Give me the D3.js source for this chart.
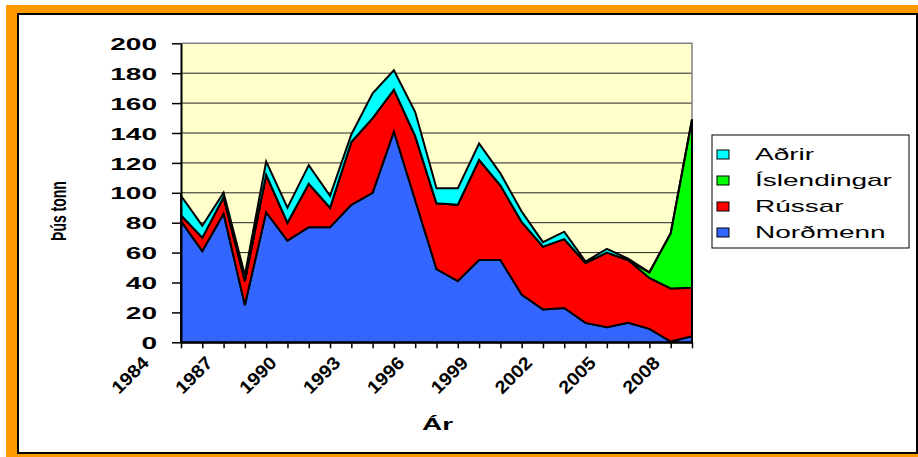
<!DOCTYPE html>
<html lang="is">
<head>
<meta charset="UTF-8" />
<title>Afli</title>
<script src="https://d3js.org/d3.v7.min.js"></script>
<style>
  html, body { margin: 0; padding: 0; background: #fff; }
  svg { display: block; font-family: "Liberation Sans", Arial, sans-serif; }
</style>
</head>
<body>
<svg width="918" height="457"></svg>
<script>
  // thousand tonnes per year, stacked bottom to top
  const years = d3.range(1984, 2009);
  const nordmenn    = [81, 61, 86, 25, 87, 68, 77, 77, 92, 100, 141, 95, 49, 41, 55, 55, 32, 22, 23, 13, 10, 13, 9, 0.5, 4];
  const russar      = [4, 9, 11, 16, 25, 12, 29, 13, 42, 50, 28, 43, 44, 51, 67, 50, 48.5, 42, 46, 40, 50, 42, 34, 35.5, 32.5];
  const islendingar = [0, 0, 0, 0, 0, 0, 0, 0, 0, 0, 0, 0, 0, 0, 0, 0, 0, 0, 0, 0, 0, 0, 3.8, 37, 112.5];
  const adrir       = [13, 8, 3, 4, 9, 10, 12.5, 8, 5, 16.5, 13, 16, 10, 11, 11, 8, 7, 3, 5, 1, 2.5, 1, 0, 0, 0];
  const yTicks = [0, 20, 40, 60, 80, 100, 120, 140, 160, 180, 200];
  const xLabelYears = [1984, 1987, 1990, 1993, 1996, 1999, 2002, 2005, 2008];

  const seriesNames = ["Norðmenn", "Rússar", "Íslendingar", "Aðrir"];
  const seriesColors = ["#3366ff", "#ff0000", "#00ff00", "#00ffff"];

  const rows = years.map((yr, i) => ({
    year: yr,
    "Norðmenn": nordmenn[i],
    "Rússar": russar[i],
    "Íslendingar": islendingar[i],
    "Aðrir": adrir[i]
  }));

  const svg = d3.select("svg");
  const plot = { left: 181, right: 692, top: 43.3, bottom: 342.3 };

  // frame
  svg.append("rect").attr("x", 6).attr("y", 5).attr("width", 912).attr("height", 452).attr("fill", "#ff9900");
  svg.append("rect").attr("x", 18).attr("y", 14).attr("width", 899).attr("height", 439)
    .attr("fill", "#fff").attr("stroke", "#000").attr("stroke-width", 2);

  const x = d3.scalePoint().domain(years).range([plot.left, plot.right]);
  const y = d3.scaleLinear().domain([0, 200]).range([plot.bottom, plot.top]);

  svg.append("rect").attr("x", plot.left).attr("y", plot.top)
    .attr("width", plot.right - plot.left).attr("height", plot.bottom - plot.top)
    .attr("fill", "#ffffcc");

  // grid
  svg.append("g").selectAll("line").data(yTicks.slice(1, -1)).join("line")
    .attr("x1", plot.left).attr("x2", plot.right)
    .attr("y1", d => y(d)).attr("y2", d => y(d))
    .attr("stroke", "#222").attr("stroke-width", 1);
  svg.append("path")
    .attr("d", `M${plot.left},${y(200)}H${plot.right}V${plot.bottom}`)
    .attr("fill", "none").attr("stroke", "#808080").attr("stroke-width", 1.5);

  // stacked areas
  const stack = d3.stack().keys(seriesNames);
  const layers = stack(rows);
  const area = d3.area()
    .x(d => x(d.data.year))
    .y0(d => y(d[0]))
    .y1(d => y(d[1]));

  svg.append("g").selectAll("path").data(layers).join("path")
    .attr("d", area)
    .attr("fill", (d, i) => seriesColors[i])
    .attr("stroke", "#000")
    .attr("stroke-width", 2)
    .attr("stroke-linejoin", "miter");

  // y axis
  const sx = 1.65;
  const yAxis = svg.append("g")
    .attr("transform", `translate(${plot.left},0)`)
    .call(d3.axisLeft(y).tickValues(yTicks).tickSize(9).tickSizeOuter(0));
  yAxis.select(".domain").attr("stroke", "#000").attr("stroke-width", 2);
  yAxis.selectAll(".tick line").attr("stroke", "#000").attr("stroke-width", 1.5);
  yAxis.selectAll(".tick text")
    .attr("x", -24 / sx)
    .attr("dy", "0.36em")
    .attr("transform", `scale(${sx},1)`)
    .attr("font-size", 17)
    .attr("font-weight", "bold")
    .attr("fill", "#000");

  // x axis
  const xAxis = svg.append("g")
    .attr("transform", `translate(0,${plot.bottom})`)
    .call(d3.axisBottom(x).tickSize(6).tickSizeOuter(0).tickFormat(""));
  xAxis.select(".domain").attr("stroke", "#000").attr("stroke-width", 2);
  xAxis.selectAll(".tick line").attr("stroke", "#000").attr("stroke-width", 1.5);

  svg.append("g").selectAll("text").data(xLabelYears).join("text")
    .attr("transform", d => `translate(${x(d) - 31},364) rotate(-45) scale(1.1,1)`)
    .attr("text-anchor", "end")
    .attr("font-size", 18)
    .attr("font-weight", "bold")
    .text(d => d);

  // axis titles
  svg.append("text")
    .attr("transform", `translate(437.5,430) scale(${sx},1)`)
    .attr("text-anchor", "middle")
    .attr("font-size", 17)
    .attr("font-weight", "bold")
    .text("Ár");

  svg.append("text")
    .attr("transform", "translate(66,211) rotate(-90) scale(1,1.6)")
    .attr("text-anchor", "middle")
    .attr("font-size", 14)
    .attr("font-weight", "bold")
    .text("Þús tonn");

  // legend
  const legend = svg.append("g");
  legend.append("rect").attr("x", 712).attr("y", 135).attr("width", 197).attr("height", 113)
    .attr("fill", "#fff").attr("stroke", "#000").attr("stroke-width", 1);
  const legendOrder = [3, 2, 1, 0];
  const item = legend.selectAll("g.item").data(legendOrder).join("g")
    .attr("class", "item")
    .attr("transform", (d, i) => `translate(0,${160 + i * 26})`);
  item.append("rect")
    .attr("x", 717).attr("y", -10).attr("width", 12).attr("height", 9)
    .attr("fill", d => seriesColors[d]).attr("stroke", "#000").attr("stroke-width", 1);
  item.append("text")
    .attr("transform", "translate(755,0) scale(1.75,1)")
    .attr("font-size", 16)
    .text(d => seriesNames[d]);
</script>
</body>
</html>
